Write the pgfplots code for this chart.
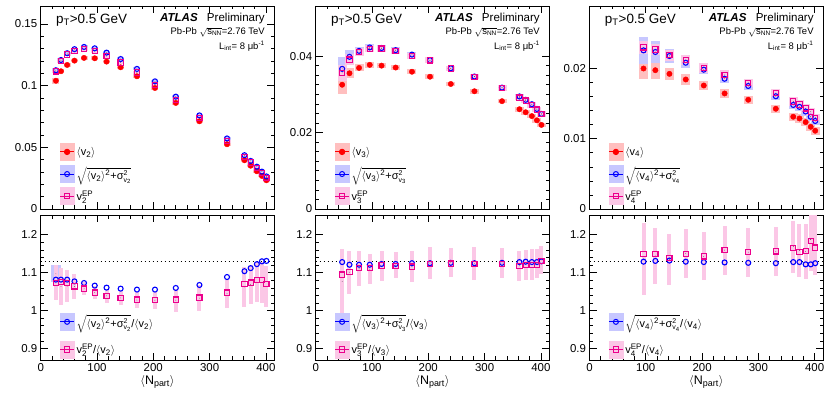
\documentclass[border=0pt]{standalone}
\usepackage{pgfplots}
\usepackage{pgfplotstable}
\pgfplotsset{compat=1.18}
\usepackage{fontspec}
\setmainfont{Liberation Sans}

\newcommand{\sub}[2][8]{$_{\mbox{\fontsize{#1}{#1}\selectfont #2}}$}
\newcommand{\sups}[2][8]{$^{\mbox{\fontsize{#1}{#1}\selectfont #2}}$}
\newcommand{\subsup}[3][8]{$^{\mbox{\fontsize{#1}{#1}\selectfont #3}}_{\mbox{\fontsize{#1}{#1}\selectfont #2}}$}
\newcommand{\av}[1]{$\langle$v\sub{#1}$\rangle$}
\newcommand{\rt}[1]{$\sqrt{\mbox{$\langle$v\sub{#1}$\rangle$\sups{2}+σ\subsup[7]{v\sub[6]{#1}}{2}}}$}

% top panel data: Npart, <v>, box, sqrt(...), box, vEP, box
\pgfplotstableread{
x r re b be m me
27 0.1040 0.0023 0.1125 0.0015 0.1116 0.0015
36 0.1117 0.0016 0.1208 0.0013 0.1200 0.0014
47 0.1168 0.0015 0.1263 0.0013 0.1253 0.0014
60 0.1203 0.0015 0.1296 0.0013 0.1280 0.0014
77 0.1225 0.0015 0.1314 0.0013 0.1296 0.0014
96 0.1222 0.0015 0.1303 0.0013 0.1280 0.0014
117 0.1195 0.0015 0.1268 0.0013 0.1240 0.0014
142 0.1149 0.0015 0.1216 0.0013 0.1188 0.0014
171 0.1076 0.0015 0.1136 0.0013 0.1107 0.0014
203 0.0981 0.0014 0.1035 0.0013 0.1008 0.0014
240 0.0860 0.0014 0.0911 0.0013 0.0885 0.0014
282 0.0711 0.0013 0.0759 0.0012 0.0736 0.0013
331 0.0525 0.0012 0.0572 0.0012 0.0550 0.0012
362 0.0395 0.0012 0.0436 0.0011 0.0423 0.0012
373 0.0351 0.0012 0.0390 0.0011 0.0377 0.0012
384 0.0306 0.0012 0.0343 0.0011 0.0331 0.0012
393 0.0268 0.0012 0.0303 0.0011 0.0290 0.0012
401 0.0233 0.0012 0.0264 0.0011 0.0249 0.0012
}\tA
\pgfplotstableread{
x r re b be m me
47 0.0325 0.0025 0.03666 0.0030 0.03559 0.0020
60 0.0355 0.0013 0.03980 0.0018 0.03909 0.0015
77 0.0369 0.0009 0.04136 0.0011 0.04103 0.0010
96 0.0377 0.0007 0.04226 0.0008 0.04192 0.0009
117 0.0375 0.0007 0.04211 0.0007 0.04196 0.0008
142 0.0370 0.0007 0.04155 0.0007 0.04137 0.0008
171 0.0359 0.0007 0.04039 0.0007 0.04006 0.0008
203 0.0346 0.0006 0.03893 0.0007 0.03886 0.0008
240 0.0327 0.0006 0.03682 0.0006 0.03675 0.0007
282 0.0308 0.0006 0.03465 0.0006 0.03459 0.0007
331 0.0282 0.0006 0.03175 0.0006 0.03167 0.0007
362 0.0261 0.0006 0.02944 0.0006 0.02915 0.0007
373 0.0253 0.0006 0.02856 0.0006 0.02836 0.0007
384 0.0243 0.0006 0.02741 0.0006 0.02724 0.0007
393 0.0232 0.0006 0.02617 0.0006 0.02601 0.0007
401 0.0220 0.0006 0.02486 0.0006 0.02486 0.0007
}\tB
\pgfplotstableread{
x r re b be m me
96 0.0200 0.0015 0.02258 0.0019 0.0230 0.0009
117 0.01976 0.0012 0.02235 0.0015 0.0227 0.0008
142 0.01924 0.0009 0.02178 0.0010 0.0219 0.0008
171 0.01844 0.0008 0.02082 0.0008 0.02119 0.0007
203 0.01758 0.0006 0.01983 0.0006 0.02009 0.0007
240 0.01645 0.0006 0.01854 0.0006 0.01908 0.0007
282 0.01555 0.0006 0.01751 0.0006 0.01794 0.0006
331 0.01427 0.0006 0.01605 0.0006 0.01650 0.0006
362 0.01313 0.0006 0.01481 0.0006 0.0153 0.0006
373 0.01289 0.0006 0.01454 0.0006 0.01488 0.0006
384 0.01237 0.0006 0.01388 0.0006 0.01432 0.0006
393 0.0117 0.0006 0.01313 0.0006 0.01384 0.0006
401 0.01114 0.0006 0.01253 0.0006 0.01299 0.0006
}\tC
% ratio panels: Npart, sqrt-ratio, EP-ratio, band centre, band half-height
\pgfplotstableread{
x b m c h
27 1.0817 1.0728 1.073 0.046
36 1.0817 1.0746 1.064 0.049
47 1.0817 1.0728 1.0645 0.0415
60 1.0772 1.064 1.0635 0.0335
77 1.0728 1.058 1.0575 0.0175
96 1.066 1.0476 1.0475 0.0175
117 1.0607 1.038 1.039 0.019
142 1.058 1.0336 1.0335 0.0185
171 1.0555 1.029 1.028 0.020
203 1.0555 1.0275 1.0275 0.0225
240 1.0598 1.029 1.0275 0.0305
282 1.0676 1.0345 1.033 0.034
331 1.0886 1.0476 1.0455 0.0385
362 1.104 1.070 1.0625 0.0525
373 1.112 1.0738 1.0685 0.0515
384 1.1225 1.0807 1.075 0.053
393 1.130 1.0807 1.074 0.054
401 1.131 1.070 1.064 0.054
}\bA
\pgfplotstableread{
x b m c h
47 1.128 1.095 1.0765 0.0865
60 1.121 1.101 1.1015 0.0565
77 1.121 1.112 1.1105 0.0455
96 1.121 1.112 1.1095 0.0405
117 1.123 1.119 1.117 0.039
142 1.123 1.118 1.120 0.034
171 1.125 1.116 1.1155 0.0405
203 1.125 1.123 1.1255 0.0415
240 1.126 1.124 1.1265 0.0375
282 1.125 1.123 1.1245 0.0425
331 1.126 1.123 1.1255 0.0385
362 1.128 1.117 1.118 0.040
373 1.129 1.121 1.1215 0.0395
384 1.128 1.121 1.1215 0.0415
393 1.128 1.121 1.124 0.039
401 1.130 1.130 1.134 0.037
}\bB
\pgfplotstableread{
x b m c h
96 1.129 1.150 1.136 0.096
117 1.131 1.149 1.144 0.075
142 1.132 1.138 1.135 0.068
171 1.129 1.149 1.151 0.065
203 1.128 1.143 1.143 0.063
240 1.127 1.160 1.1595 0.0645
282 1.126 1.154 1.154 0.065
331 1.125 1.156 1.156 0.065
362 1.128 1.165 1.1685 0.0685
373 1.128 1.154 1.158 0.069
384 1.122 1.158 1.156 0.072
393 1.122 1.183 1.1875 0.0825
401 1.125 1.166 1.174 0.081
}\bC

\pgfplotsset{
  atl/.style={scale only axis, width=233.6bp, xmin=0, xmax=415,
    axis line style={line width=0.9bp}, tick style={black, line width=0.7bp},
    tick align=inside, major tick length=7bp, minor tick length=3.5bp,
    xtick={0,100,200,300,400}, minor x tick num=4,
    tick label style={font=\fontsize{11.5}{12}\selectfont},
    legend cell align=left,
    legend style={draw=none, fill=none, inner sep=0pt, font=\fontsize{11}{12}\selectfont,
      /tikz/every even column/.append style={column sep=3bp}}},
  atltop/.style={atl, height=203bp, xticklabels={}, ymin=0,
    legend style={at={(0.08,0.325)}, anchor=north west, row sep=4.5bp}},
  atlbot/.style={atl, height=145bp, ymin=0.87, ymax=1.252,
    ytick={0.9,1,1.1,1.2}, yticklabels={0.9,1,1.1,1.2}, minor y tick num=4,
    xticklabels={0,100,200,300,400},
    xlabel={$\langle$N\sub[9]{part}$\rangle$},
    xlabel style={font=\fontsize{12.5}{13}\selectfont, yshift=3bp},
    legend style={at={(0.08,0.326)}, anchor=north west, row sep=10bp}},
  box/.style 2 args={only marks, mark=*, mark size=0.01bp, mark options={draw=none, fill=none},
    forget plot, error bars/.cd, y dir=both, y explicit,
    error mark=none, error bar style={line width=#1, color=#2}},
  pr/.style={only marks, mark=*, red, mark size=2.7bp, forget plot},
  pb/.style={only marks, mark=o, blue, mark size=2.5bp, line width=1.1bp, forget plot},
  pm/.style={only marks, mark=square, magenta, mark size=2.6bp, line width=1.1bp, forget plot},
}
\newcommand{\legR}{\addlegendimage{legend image code/.code={\fill[red!25] (0bp,-8.5bp) rectangle (14bp,8.5bp);
  \draw[red, line width=0.9bp, mark=*, mark size=2.7bp, mark repeat=2, mark phase=2] plot coordinates {(0bp,0bp) (7bp,0bp) (14bp,0bp)};}}}
\newcommand{\legB}{\addlegendimage{legend image code/.code={\fill[blue!22] (0bp,-8.5bp) rectangle (14bp,8.5bp);
  \draw[blue, line width=1.0bp, mark=o, mark size=2.5bp, mark repeat=2, mark phase=2] plot coordinates {(0bp,0bp) (7bp,0bp) (14bp,0bp)};}}}
\newcommand{\legM}{\addlegendimage{legend image code/.code={\fill[magenta!22] (0bp,-8.5bp) rectangle (14bp,8.5bp);
  \draw[magenta, line width=1.0bp, mark=square, mark size=2.6bp, mark repeat=2, mark phase=2] plot coordinates {(0bp,0bp) (7bp,0bp) (14bp,0bp)};}}}
\newcommand{\toptext}{%
  \node[anchor=base west, font=\fontsize{13.5}{14}\selectfont, inner sep=0pt] at (rel axis cs:0.065,0.913) {p\sub[9.5]{T}>0.5 GeV};
  \node[anchor=base east, font=\fontsize{11.6}{12}\selectfont, inner sep=0pt] at (rel axis cs:0.96,0.925) {\textbf{\textit{ATLAS}}\hspace{0.8em}Preliminary};
  \node[anchor=base east, font=\fontsize{9.5}{10}\selectfont, inner sep=0pt] at (rel axis cs:0.96,0.86) {Pb-Pb $\sqrt{\mbox{s\sub[6.5]{NN}}}$=2.76 TeV};
  \node[anchor=base east, font=\fontsize{9.5}{10}\selectfont, inner sep=0pt] at (rel axis cs:0.96,0.787) {L\sub[6.5]{int}= 8 μb\sups[6.5]{-1}};}

\begin{document}
\begin{tikzpicture}
\useasboundingbox (0,0) rectangle (830bp,394bp);

% ===== panel 1 top =====
\begin{axis}[atltop, at={(40.7bp,185bp)}, anchor=south west, ymax=0.1646,
  ytick={0,0.05,0.1,0.15}, yticklabels={0,0.05,0.1,0.15}, minor y tick num=4]
\addplot[box={7bp}{red!25}] table[x=x,y=r,y error=re]{\tA};
\addplot[box={7bp}{blue!22}] table[x=x,y=b,y error=be]{\tA};
\addplot[box={7bp}{magenta!22}] table[x=x,y=m,y error=me]{\tA};
\addplot[pr] table[x=x,y=r]{\tA};
\addplot[pb] table[x=x,y=b]{\tA};
\addplot[pm] table[x=x,y=m]{\tA};
\legR \addlegendentry{\av{2}}
\legB \addlegendentry{\rt{2}}
\legM \addlegendentry{v\subsup{2}{EP}}
\toptext
\end{axis}
% ===== panel 1 bottom =====
\begin{axis}[atlbot, at={(40.7bp,34bp)}, anchor=south west]
\addplot[black, line width=1.2bp, dash pattern=on 1.5bp off 2.5bp, forget plot] coordinates {(0,1.13) (415,1.13)};
\addplot[box={10bp}{blue!22}] coordinates {(27,1.097) +- (0,0.022)};
\addplot[box={4bp}{magenta!22}] table[x=x,y=c,y error=h]{\bA};
\addplot[pb] table[x=x,y=b]{\bA};
\addplot[pm] table[x=x,y=m]{\bA};
\legB \addlegendentry{\rt{2}/\av{2}}
\legM \addlegendentry{v\subsup{2}{EP}/\av{2}}
\end{axis}

% ===== panel 2 top =====
\begin{axis}[atltop, at={(315.7bp,185bp)}, anchor=south west, ymax=0.0531,
  ytick={0,0.02,0.04}, yticklabels={0,0.02,0.04}, minor y tick num=7]
\addplot[box={9bp}{red!25}] table[x=x,y=r,y error=re]{\tB};
\addplot[box={9bp}{blue!22}] table[x=x,y=b,y error=be]{\tB};
\addplot[box={9bp}{magenta!22}] table[x=x,y=m,y error=me]{\tB};
\addplot[pr] table[x=x,y=r]{\tB};
\addplot[pb] table[x=x,y=b]{\tB};
\addplot[pm] table[x=x,y=m]{\tB};
\legR \addlegendentry{\av{3}}
\legB \addlegendentry{\rt{3}}
\legM \addlegendentry{v\subsup{3}{EP}}
\toptext
\end{axis}
% ===== panel 2 bottom =====
\begin{axis}[atlbot, at={(315.7bp,34bp)}, anchor=south west]
\addplot[black, line width=1.2bp, dash pattern=on 1.5bp off 2.5bp, forget plot] coordinates {(0,1.13) (415,1.13)};
\addplot[box={4bp}{magenta!22}] table[x=x,y=c,y error=h]{\bB};
\addplot[pb] table[x=x,y=b]{\bB};
\addplot[pm] table[x=x,y=m]{\bB};
\legB \addlegendentry{\rt{3}/\av{3}}
\legM \addlegendentry{v\subsup{3}{EP}/\av{3}}
\end{axis}

% ===== panel 3 top =====
\begin{axis}[atltop, at={(589.5bp,185bp)}, anchor=south west, ymax=0.0289,
  ytick={0,0.01,0.02}, yticklabels={0,0.01,0.02}, minor y tick num=4]
\addplot[box={9bp}{red!25}] table[x=x,y=r,y error=re]{\tC};
\addplot[box={9bp}{blue!22}] table[x=x,y=b,y error=be]{\tC};
\addplot[box={9bp}{magenta!22}] table[x=x,y=m,y error=me]{\tC};
\addplot[pr] table[x=x,y=r]{\tC};
\addplot[pb] table[x=x,y=b]{\tC};
\addplot[pm] table[x=x,y=m]{\tC};
\legR \addlegendentry{\av{4}}
\legB \addlegendentry{\rt{4}}
\legM \addlegendentry{v\subsup{4}{EP}}
\toptext
\end{axis}
% ===== panel 3 bottom =====
\begin{axis}[atlbot, at={(589.5bp,34bp)}, anchor=south west]
\addplot[black, line width=1.2bp, dash pattern=on 1.5bp off 2.5bp, forget plot] coordinates {(0,1.13) (415,1.13)};
\addplot[box={4bp}{magenta!22}] table[x=x,y=c,y error=h]{\bC};
\addplot[pb] table[x=x,y=b]{\bC};
\addplot[pm] table[x=x,y=m]{\bC};
\legB \addlegendentry{\rt{4}/\av{4}}
\legM \addlegendentry{v\subsup{4}{EP}/\av{4}}
\end{axis}
\end{tikzpicture}
\end{document}
